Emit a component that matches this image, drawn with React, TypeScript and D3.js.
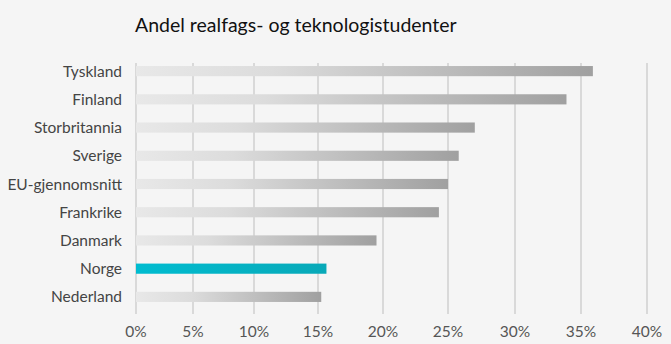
import React from "react";
import * as d3 from "d3";

const countries = ["Tyskland", "Finland", "Storbritannia", "Sverige", "EU-gjennomsnitt", "Frankrike", "Danmark", "Norge", "Nederland"];
const shares = [35.9, 33.9, 27.0, 25.8, 25.0, 24.3, 19.5, 15.65, 15.25];
const highlight = "Norge";
const tickValues = [0, 5, 10, 15, 20, 25, 30, 35, 40];
const tickPixels = [136, 193, 254, 318, 383, 448, 515, 581, 647];
const title = "Andel realfags- og teknologistudenter";

export default function App() {
  const W = 671, H = 344;
  const x = d3.scaleLinear().domain(tickValues).range(tickPixels);
  const y = d3.scaleBand().domain(countries).range([57, 311]).paddingInner(0.64).paddingOuter(0.32);
  const bw = y.bandwidth();
  const font = "Lato, 'Noto Sans', sans-serif";
  return (
    <svg width={W} height={H} style={{ position: "fixed", left: 0, top: 0, background: "#f5f5f5" }} fontFamily={font}>
      <defs>
        <linearGradient id="gGray" x1="0" x2="1" y1="0" y2="0">
          <stop offset="0" stopColor="#e8e8e8" />
          <stop offset="0.3" stopColor="#dcdcdc" />
          <stop offset="1" stopColor="#a0a0a0" />
        </linearGradient>
        <linearGradient id="gTeal" x1="0" x2="1" y1="0" y2="0">
          <stop offset="0" stopColor="#00bcd0" />
          <stop offset="1" stopColor="#08a9b8" />
        </linearGradient>
      </defs>
      <rect width={W} height={H} fill="#f5f5f5" />
      <text x={135} y={32} fontSize={19.5} fill="#111">{title}</text>
      {tickValues.map((t) => (
        <g key={t}>
          <line x1={x(t)} x2={x(t)} y1={63} y2={314} stroke="#bdbdbd" strokeWidth={1} />
          <text x={x(t)} y={337} fontSize={15.5} fill="#555" textAnchor="middle">{t}%</text>
        </g>
      ))}
      {countries.map((c, i) => (
        <g key={c}>
          <rect x={x(0)} y={y(c)} width={x(shares[i]) - x(0)} height={bw}
            fill={c === highlight ? "url(#gTeal)" : "url(#gGray)"} />
          <text x={122} y={(y(c) as number) + bw / 2} dy="0.36em" fontSize={15.5} fill="#444" textAnchor="end">{c}</text>
        </g>
      ))}
    </svg>
  );
}
